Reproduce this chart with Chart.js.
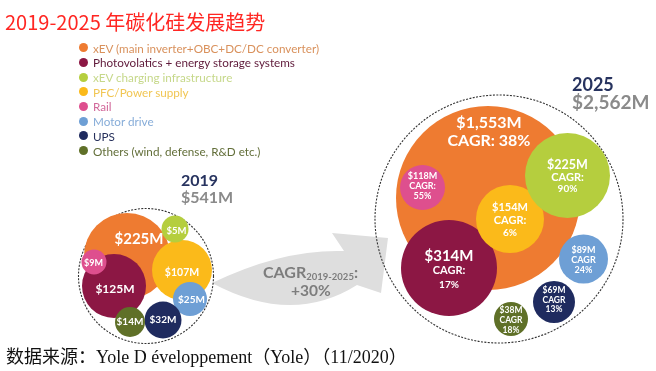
<!DOCTYPE html>
<html>
<head>
<meta charset="utf-8">
<script src="https://cdn.jsdelivr.net/npm/chart.js@4.4.1/dist/chart.umd.min.js"></script>
<style>
  html, body { margin: 0; padding: 0; background: #fff; }
  #wrap { position: relative; width: 656px; height: 371px; overflow: hidden; }
  #chart { position: absolute; left: 0; top: 0; }
  .t { position: absolute; white-space: nowrap; line-height: 1; }
  #title { left: 5px; top: 7px; font: 20px "Noto Sans CJK SC", sans-serif; color: #ff2622; }
  #legend { position: absolute; left: 78.5px; top: 40.3px; font: 11.7px Lato, sans-serif; }
  .li { position: absolute; left: 0; height: 14.7px; display: flex; align-items: center; white-space: nowrap; }
  .dot { width: 9px; height: 9px; border-radius: 50%; margin-right: 5.5px; }
  .year { font-family: Lato, sans-serif; font-weight: 700; color: #27335f; }
  .total { font-family: Lato, sans-serif; font-weight: 700; color: #8a8a8a; }
  .cagr { font-family: Lato, sans-serif; font-weight: 700; color: #7d7d7d; }
  #source { left: 6px; top: 342px; font: 18px "Liberation Serif", "Noto Sans CJK SC", serif; color: #111; }
</style>
</head>
<body>
<div id="wrap">
  <canvas id="chart" width="656" height="371"></canvas>
  <div id="title" class="t">2019-2025 年碳化硅发展趋势</div>
  <div id="legend"></div>
  <div id="y0" class="t year" style="left:181px;top:172.3px;font-size:16px"></div>
  <div id="s0" class="t total" style="left:181px;top:189px;font-size:16px"></div>
  <div id="y1" class="t year" style="left:572px;top:75px;font-size:18px"></div>
  <div id="s1" class="t total" style="left:572px;top:92px;font-size:19px"></div>
  <div class="t cagr" style="left:263px;top:264px;font-size:16px">CAGR<span style="font-size:9.5px;position:relative;top:2px">2019-2025</span>:</div>
  <div id="cagrAll" class="t cagr" style="left:291px;top:282.5px;font-size:15.5px"></div>
  <div id="source" class="t">数据来源：Yole D éveloppement（Yole）（11/2020）</div>
</div>
<script>
// SiC device market by application, 2019 vs 2025 (Yole)
const categories = [
    'xEV (main inverter+OBC+DC/DC converter)',
    'Photovolatics + energy storage systems',
    'xEV charging infrastructure',
    'PFC/Power supply',
    'Rail',
    'Motor drive',
    'UPS',
    'Others (wind, defense, R&D etc.)'
];
const years = ['2019', '2025'];
const values2019 = [225, 125, 5, 107, 9, 25, 32, 14];      // $M
const values2025 = [1553, 314, 225, 154, 118, 89, 69, 38]; // $M
const cagr2025 = [38, 17, 90, 6, 55, 24, 13, 18];          // %
const totals = [541, 2562];                                // $M
const cagrTotal = 30;                                      // %

// styles
const colors = ['#EE7B31', '#8C1744', '#B5CE3E', '#FBBA1A', '#DE4F8E', '#6E9FD5', '#1F2B5F', '#5F7028'];
const legendText = ['#D9915C', '#5F1A3A', '#C6D88A', '#F1C653', '#D2689A', '#86ACD8', '#27315C', '#636F3A'];
const drawOrder = [8, 7, 5, 6, 4, 3, 2, 1]; // higher = further back

// packed-bubble layout on a 656x371 grid: centre x, centre y, radius
const layout2019 = [[127, 256, 43], [114, 286, 32], [175, 229, 13.5], [182, 270, 30],
                    [94, 262, 12.5], [190, 299, 17], [163, 320, 18.5], [130, 322, 15]];
const layout2025 = [[488, 198, 92], [449, 268, 48], [567.5, 175.5, 42.5], [510, 219, 34],
                    [422.5, 187.5, 22.5], [583.5, 259, 24.5], [554, 302, 21], [511, 319, 17]];
const rings = [[146, 276, 67.5], [499, 219, 124]];

// label placement: offset from centre, font sizes per line, line gap
const label2019 = [[12, -17, [15]], [1, 3, [12]], [1.5, 1.5, [9.5]], [0, 2.5, [10.5]],
                   [-0.5, 1.5, [9]], [1.5, 0.5, [10]], [0, -0.5, [10]], [0, 0, [10]]];
const label2025 = [[1, -66.5, [16, 16], 18], [0, 2.5, [15, 11, 10], 14], [0, 1.7, [12.5, 11, 10], 12],
                   [0, 1, [11, 11, 10], 13], [0, -1.5, [9, 9, 9], 10], [0, 1, [9, 9, 9], 10.3],
                   [0, -2, [8.5, 8.5, 8.5], 9.7], [0, 1.5, [8.5, 8.5, 8.5], 10]];

const money = v => '$' + v.toLocaleString('en-US') + 'M';

// html texts
const legendEl = document.getElementById('legend');
categories.forEach((c, i) => {
    const row = document.createElement('div');
    row.className = 'li';
    row.style.top = (i * 14.7) + 'px';
    row.innerHTML = `<span class="dot" style="background:${colors[i]}"></span><span style="color:${legendText[i]}">${c}</span>`;
    legendEl.appendChild(row);
});
document.getElementById('y0').textContent = years[0];
document.getElementById('s0').textContent = money(totals[0]);
document.getElementById('y1').textContent = years[1];
document.getElementById('s1').textContent = money(totals[1]);
document.getElementById('cagrAll').textContent = '+' + cagrTotal + '%';

function labelLines(i, j) {
    if (j === 0) return [money(values2019[i])];
    const v = money(values2025[i]);
    if (i === 0) return [v, 'CAGR: ' + cagr2025[i] + '%'];
    return [v, i >= 5 ? 'CAGR' : 'CAGR:', cagr2025[i] + '%'];
}

const datasets = categories.map((c, i) => ({
    label: c,
    data: [
        { x: layout2019[i][0], y: layout2019[i][1], r: layout2019[i][2], v: values2019[i] },
        { x: layout2025[i][0], y: layout2025[i][1], r: layout2025[i][2], v: values2025[i] }
    ],
    backgroundColor: colors[i],
    borderWidth: 0,
    order: drawOrder[i]
}));
datasets.push({
    label: 'ring',
    data: rings.map(r => ({ x: r[0], y: r[1], r: r[2] })),
    backgroundColor: 'rgba(0,0,0,0)',
    borderColor: '#333',
    borderWidth: 1.1,
    order: 20
});

const decor = {
    id: 'decor',
    beforeDatasetsDraw(chart) {
        // grey growth arrow between the two clusters
        const ctx = chart.ctx;
        ctx.save();
        ctx.fillStyle = '#DEDEDE';
        ctx.beginPath();
        ctx.moveTo(212, 283);
        ctx.quadraticCurveTo(282, 249, 344, 251);
        ctx.lineTo(332, 233);
        ctx.lineTo(388, 238);
        ctx.lineTo(381, 293);
        ctx.lineTo(357, 285);
        ctx.quadraticCurveTo(292, 326, 212, 283);
        ctx.closePath();
        ctx.fill();
        ctx.restore();
    },
    beforeDatasetDraw(chart, args) {
        if (chart.data.datasets[args.index].label === 'ring') {
            chart.ctx.save();
            chart.ctx.setLineDash([2, 1.4]);
        }
    },
    afterDatasetDraw(chart, args) {
        if (chart.data.datasets[args.index].label === 'ring') chart.ctx.restore();
    },
    afterDatasetsDraw(chart) {
        const ctx = chart.ctx;
        ctx.save();
        ctx.fillStyle = '#fff';
        ctx.textAlign = 'center';
        ctx.textBaseline = 'middle';
        categories.forEach((c, i) => {
            const meta = chart.getDatasetMeta(i);
            meta.data.forEach((el, j) => {
                const lay = j === 0 ? label2019[i] : label2025[i];
                const lines = labelLines(i, j);
                const gap = lay[3] || 0;
                const y0 = el.y + lay[1] - gap * (lines.length - 1) / 2;
                lines.forEach((txt, k) => {
                    ctx.font = `700 ${lay[2][k]}px Lato`;
                    ctx.fillText(txt, el.x + lay[0], y0 + k * gap);
                });
            });
        });
        ctx.restore();
    }
};

new Chart(document.getElementById('chart'), {
    type: 'bubble',
    data: { datasets },
    options: {
        responsive: false,
        animation: false,
        events: [],
        layout: { padding: 0, autoPadding: false },
        plugins: { legend: { display: false }, tooltip: { enabled: false } },
        scales: {
            x: { type: 'linear', min: 0, max: 656, display: false },
            y: { type: 'linear', min: 0, max: 371, reverse: true, display: false }
        }
    },
    plugins: [decor]
});
</script>
</body>
</html>
